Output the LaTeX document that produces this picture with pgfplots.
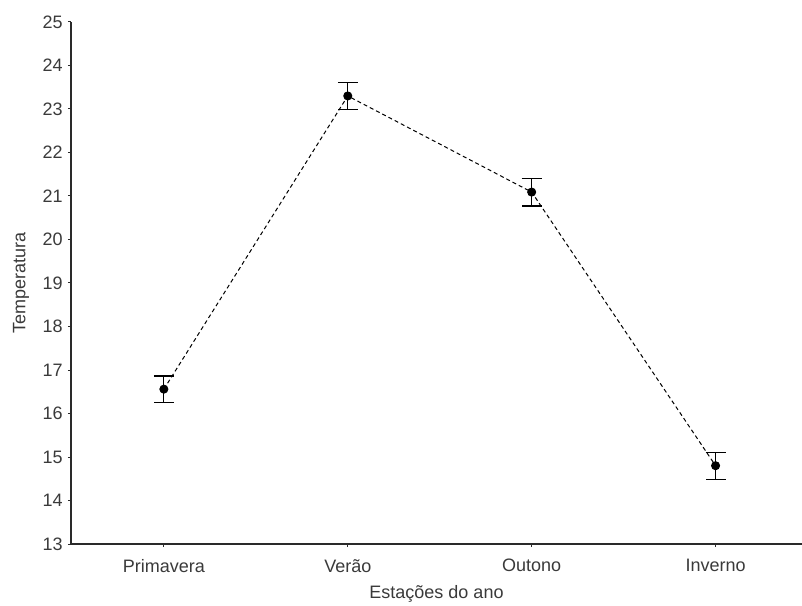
\documentclass[border=0pt]{standalone}
\usepackage{pgfplots}
\pgfplotsset{compat=1.18}
\usepackage{fontspec}
\setmainfont{Liberation Sans}
\definecolor{txt}{HTML}{3A3A3A}
\definecolor{axln}{HTML}{2A2A2A}

\begin{document}
\begin{tikzpicture}
\useasboundingbox (-35.5pt,-30.5pt) rectangle (365.5pt,272pt);
\begin{axis}[
  scale only axis,
  width=365.5pt, height=261pt,
  xmin=-0.505, xmax=3.47,
  ymin=13, ymax=25,
  ytick={13,...,25},
  xtick={0,1,2,3},
  xticklabels={Primavera,Verão,Outono,Inverno},
  axis lines=left,
  axis line style={-, draw=axln, line width=0.6pt},
  tick style={draw=axln, line width=0.5pt},
  tick align=outside,
  major tick length=1.6pt,
  font=\fontsize{9}{10}\selectfont,
  tick label style={text=txt},
  /pgf/number format/assume math mode=true,
  xticklabel style={yshift=-2.5pt},
  yticklabel style={xshift=1pt},
  xlabel={Estações do ano},
  ylabel={Temperatura},
  xlabel style={text=txt, at={(axis description cs:0.5,0)}, anchor=center, yshift=-25pt},
  % the label is turned by 90 degrees, so its yshift moves it sideways
  ylabel style={text=txt, at={(axis description cs:0,0.5)}, anchor=center, yshift=25pt},
]
\addplot[black, line width=0.5pt, dash pattern=on 2pt off 1.5pt,
  mark=*, mark size=2pt, mark options={solid, fill=black},
  error bars/.cd, y dir=both, y explicit,
  error bar style={solid, black, line width=0.6pt},
  error mark options={rotate=90, mark size=5pt, line width=0.6pt, solid}]
coordinates {
  (0,16.56) +- (0,0.30)
  (1,23.30) +- (0,0.31)
  (2,21.09) +- (0,0.32)
  (3,14.80) +- (0,0.31)
};
\end{axis}
\end{tikzpicture}
\end{document}
